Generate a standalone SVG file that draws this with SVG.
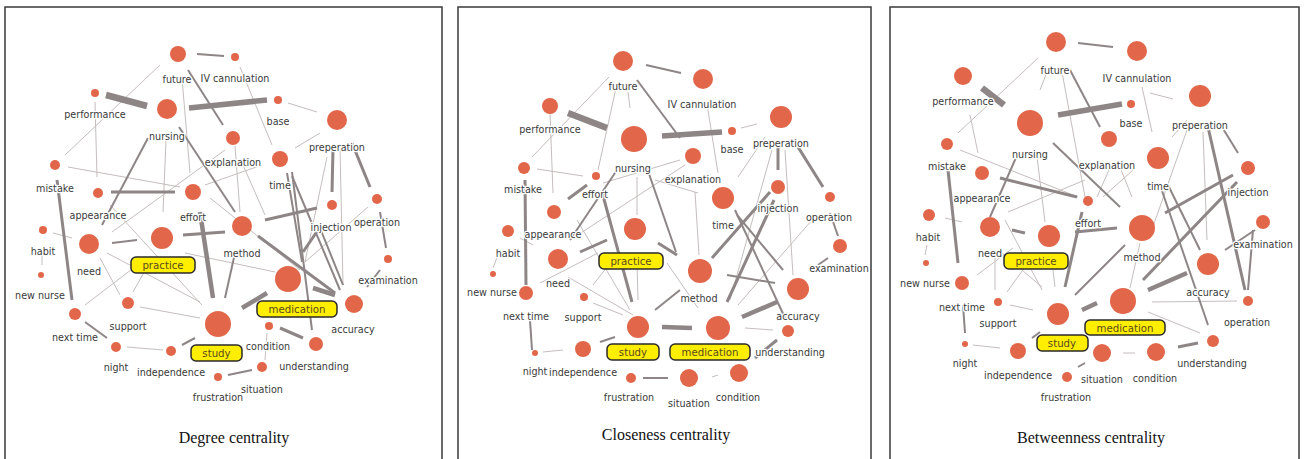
<svg xmlns="http://www.w3.org/2000/svg" width="1305" height="459" viewBox="0 0 1305 459">
<style>
.frame{fill:#fff;stroke:#3a3a3a;stroke-width:1.5}
.cap{font-family:"Liberation Serif",serif;font-size:16px;fill:#111;text-anchor:middle}
.n{fill:#e2674a}
.t{font-family:"DejaVu Sans",sans-serif;font-size:9.6px;fill:#3a3a3a;text-anchor:middle;paint-order:stroke;stroke:#fff;stroke-width:2.5;stroke-linejoin:round}
.b{fill:#ffee00;stroke:#2a2a2a;stroke-width:1.5}
.bt{font-family:"DejaVu Sans",sans-serif;font-size:10.2px;fill:#5a4a1e;text-anchor:middle}
line{stroke-linecap:butt}
.e1{stroke:#c6bdbd;stroke-width:1}
.e2{stroke:#8e8686;stroke-width:2}
.e3{stroke:#8e8686;stroke-width:3}
.e4{stroke:#8e8686;stroke-width:4.5}
.e5{stroke:#8e8686;stroke-width:5.5}
.e6{stroke:#8e8686;stroke-width:6.5}
</style>
<rect class="frame" x="5" y="7" width="437" height="470"/>
<rect class="frame" x="458" y="7" width="413" height="470"/>
<rect class="frame" x="890" y="7" width="409" height="470"/>

<!-- Panel 1 connectors -->
<g id="p1-edges">
<line class="e1" x1="182" y1="78" x2="190" y2="173"/>
<line class="e1" x1="160" y1="65" x2="65" y2="155"/>
<line class="e1" x1="166" y1="140" x2="163" y2="212"/>
<line class="e1" x1="95" y1="102" x2="97" y2="177"/>
<line class="e1" x1="68" y1="167" x2="180" y2="187"/>
<line class="e1" x1="112" y1="232" x2="225" y2="150"/>
<line class="e1" x1="205" y1="185" x2="262" y2="165"/>
<line class="e1" x1="240" y1="67" x2="272" y2="145"/>
<line class="e1" x1="288" y1="103" x2="317" y2="112"/>
<line class="e1" x1="295" y1="148" x2="320" y2="133"/>
<line class="e1" x1="235" y1="146" x2="240" y2="212"/>
<line class="e1" x1="243" y1="165" x2="265" y2="215"/>
<line class="e1" x1="340" y1="148" x2="343" y2="285"/>
<line class="e1" x1="327" y1="157" x2="305" y2="262"/>
<line class="e1" x1="368" y1="207" x2="305" y2="262"/>
<line class="e1" x1="267" y1="333" x2="265" y2="360"/>
<line class="e1" x1="185" y1="253" x2="275" y2="272"/>
<line class="e1" x1="53" y1="233" x2="72" y2="238"/>
<line class="e1" x1="42" y1="250" x2="42" y2="265"/>
<line class="e1" x1="100" y1="258" x2="120" y2="295"/>
<line class="e1" x1="107" y1="253" x2="200" y2="302"/>
<line class="e1" x1="85" y1="305" x2="140" y2="263"/>
<line class="e1" x1="133" y1="292" x2="147" y2="267"/>
<line class="e1" x1="140" y1="307" x2="200" y2="318"/>
<line class="e1" x1="110" y1="205" x2="202" y2="305"/>
<line class="e1" x1="127" y1="347" x2="163" y2="350"/>
<line class="e1" x1="210" y1="198" x2="300" y2="270"/>
<line class="e2" x1="197" y1="54" x2="224" y2="56"/>
<line class="e2" x1="188" y1="70" x2="223" y2="125"/>
<line class="e2" x1="179" y1="127" x2="235" y2="212"/>
<line class="e2" x1="148" y1="138" x2="102" y2="225"/>
<line class="e2" x1="287" y1="173" x2="302" y2="262"/>
<line class="e2" x1="292" y1="176" x2="340" y2="290"/>
<line class="e2" x1="380" y1="212" x2="386" y2="248"/>
<line class="e2" x1="380" y1="270" x2="367" y2="287"/>
<line class="e2" x1="228" y1="375" x2="252" y2="370"/>
<line class="e2" x1="292" y1="172" x2="312" y2="330"/>
<line class="e2" x1="320" y1="228" x2="343" y2="285"/>
<line class="e2" x1="235" y1="253" x2="225" y2="298"/>
<line class="e2" x1="112" y1="243" x2="137" y2="240"/>
<line class="e2" x1="85" y1="322" x2="107" y2="338"/>
<line class="e2" x1="182" y1="345" x2="195" y2="338"/>
<line class="e3" x1="57" y1="180" x2="72" y2="300"/>
<line class="e3" x1="111" y1="192" x2="175" y2="192"/>
<line class="e3" x1="333" y1="150" x2="332" y2="192"/>
<line class="e3" x1="352" y1="143" x2="370" y2="187"/>
<line class="e3" x1="265" y1="220" x2="317" y2="208"/>
<line class="e3" x1="258" y1="236" x2="335" y2="293"/>
<line class="e3" x1="280" y1="328" x2="303" y2="338"/>
<line class="e3" x1="303" y1="252" x2="318" y2="230"/>
<line class="e3" x1="183" y1="235" x2="225" y2="232"/>
<line class="e4" x1="313" y1="288" x2="335" y2="295"/>
<line class="e4" x1="242" y1="308" x2="267" y2="293"/>
<line class="e4" x1="200" y1="212" x2="213" y2="298"/>
<line class="e5" x1="189" y1="108" x2="267" y2="100"/>
<line class="e6" x1="106" y1="95" x2="147" y2="106"/>
</g>

<!-- Panel 1 nodes -->
<g id="p1-future"><circle class="n" cx="178" cy="54" r="8"/><text class="t" x="177" y="83">future</text></g>
<g id="p1-iv-cannulation"><circle class="n" cx="235" cy="57" r="4"/><text class="t" x="235" y="82">IV cannulation</text></g>
<g id="p1-performance"><circle class="n" cx="95" cy="93" r="4"/><text class="t" x="95" y="118">performance</text></g>
<g id="p1-nursing"><circle class="n" cx="167" cy="109" r="10"/><text class="t" x="167" y="140">nursing</text></g>
<g id="p1-base"><circle class="n" cx="278" cy="100" r="4"/><text class="t" x="278" y="125">base</text></g>
<g id="p1-preperation"><circle class="n" cx="337" cy="120" r="10"/><text class="t" x="337" y="151">preperation</text></g>
<g id="p1-explanation"><circle class="n" cx="233" cy="138" r="7"/><text class="t" x="233" y="166">explanation</text></g>
<g id="p1-time"><circle class="n" cx="280" cy="159" r="8"/><text class="t" x="280" y="189">time</text></g>
<g id="p1-mistake"><circle class="n" cx="55" cy="165" r="5"/><text class="t" x="55" y="192">mistake</text></g>
<g id="p1-appearance"><circle class="n" cx="98" cy="193" r="5"/><text class="t" x="98" y="219">appearance</text></g>
<g id="p1-effort"><circle class="n" cx="193" cy="192" r="8"/><text class="t" x="193" y="221">effort</text></g>
<g id="p1-injection"><circle class="n" cx="332" cy="205" r="5"/><text class="t" x="331" y="231">injection</text></g>
<g id="p1-operation"><circle class="n" cx="377" cy="199" r="5"/><text class="t" x="377" y="226">operation</text></g>
<g id="p1-method"><circle class="n" cx="242" cy="226" r="10"/><text class="t" x="242" y="257">method</text></g>
<g id="p1-habit"><circle class="n" cx="43" cy="230" r="4"/><text class="t" x="43" y="255">habit</text></g>
<g id="p1-need"><circle class="n" cx="89" cy="244" r="10"/><text class="t" x="89" y="275">need</text></g>
<g id="p1-practice"><circle class="n" cx="162" cy="238" r="11"/><rect class="b" x="131" y="257" width="64" height="16" rx="5"/><text class="bt" x="163" y="269">practice</text></g>
<g id="p1-new-nurse"><circle class="n" cx="41" cy="275" r="3"/><text class="t" x="40" y="299">new nurse</text></g>
<g id="p1-examination"><circle class="n" cx="388" cy="259" r="4"/><text class="t" x="388" y="284">examination</text></g>
<g id="p1-medication"><circle class="n" cx="288" cy="279" r="13"/><rect class="b" x="257" y="301" width="80" height="16" rx="5"/><text class="bt" x="297" y="313">medication</text></g>
<g id="p1-accuracy"><circle class="n" cx="354" cy="304" r="9"/><text class="t" x="353" y="333">accuracy</text></g>
<g id="p1-next-time"><circle class="n" cx="75" cy="314" r="6"/><text class="t" x="75" y="341">next time</text></g>
<g id="p1-support"><circle class="n" cx="128" cy="303" r="6"/><text class="t" x="128" y="330">support</text></g>
<g id="p1-study"><circle class="n" cx="218" cy="324" r="13"/><rect class="b" x="191" y="345" width="51" height="16" rx="5"/><text class="bt" x="216.5" y="357">study</text></g>
<g id="p1-condition"><circle class="n" cx="269" cy="326" r="4"/><text class="t" x="268" y="350">condition</text></g>
<g id="p1-understanding"><circle class="n" cx="316" cy="344" r="7"/><text class="t" x="314" y="370">understanding</text></g>
<g id="p1-night"><circle class="n" cx="116" cy="347" r="5"/><text class="t" x="116" y="371">night</text></g>
<g id="p1-independence"><circle class="n" cx="171" cy="351" r="5"/><text class="t" x="171" y="376">independence</text></g>
<g id="p1-situation"><circle class="n" cx="262" cy="367" r="5"/><text class="t" x="262" y="393">situation</text></g>
<g id="p1-frustration"><circle class="n" cx="218" cy="377" r="4"/><text class="t" x="218" y="401">frustration</text></g>
<text class="cap" x="234" y="443">Degree centrality</text>

<!-- Panel 2 connectors -->
<g id="p2-edges">
<line class="e1" x1="609" y1="77" x2="532" y2="157"/>
<line class="e1" x1="628" y1="92" x2="630" y2="108"/>
<line class="e1" x1="616" y1="88" x2="598" y2="170"/>
<line class="e1" x1="550" y1="113" x2="553" y2="193"/>
<line class="e1" x1="537" y1="169" x2="583" y2="176"/>
<line class="e1" x1="637" y1="177" x2="637" y2="215"/>
<line class="e1" x1="603" y1="183" x2="680" y2="160"/>
<line class="e1" x1="570" y1="240" x2="685" y2="165"/>
<line class="e1" x1="707" y1="104" x2="718" y2="173"/>
<line class="e1" x1="741" y1="128" x2="757" y2="124"/>
<line class="e1" x1="765" y1="137" x2="738" y2="177"/>
<line class="e1" x1="772" y1="150" x2="730" y2="300"/>
<line class="e1" x1="785" y1="150" x2="793" y2="275"/>
<line class="e1" x1="655" y1="180" x2="698" y2="193"/>
<line class="e1" x1="695" y1="192" x2="699" y2="255"/>
<line class="e1" x1="738" y1="305" x2="812" y2="220"/>
<line class="e1" x1="745" y1="328" x2="773" y2="330"/>
<line class="e1" x1="712" y1="377" x2="718" y2="375"/>
<line class="e1" x1="667" y1="263" x2="698" y2="308"/>
<line class="e1" x1="520" y1="238" x2="533" y2="245"/>
<line class="e1" x1="498" y1="255" x2="493" y2="268"/>
<line class="e1" x1="568" y1="277" x2="633" y2="315"/>
<line class="e1" x1="540" y1="283" x2="598" y2="253"/>
<line class="e1" x1="593" y1="285" x2="607" y2="267"/>
<line class="e1" x1="593" y1="303" x2="623" y2="315"/>
<line class="e1" x1="637" y1="263" x2="638" y2="300"/>
<line class="e1" x1="577" y1="220" x2="630" y2="310"/>
<line class="e1" x1="543" y1="352" x2="563" y2="350"/>
<line class="e2" x1="646" y1="65" x2="681" y2="73"/>
<line class="e2" x1="637" y1="80" x2="680" y2="138"/>
<line class="e2" x1="617" y1="170" x2="570" y2="240"/>
<line class="e2" x1="647" y1="168" x2="676" y2="252"/>
<line class="e2" x1="737" y1="215" x2="783" y2="270"/>
<line class="e2" x1="735" y1="210" x2="785" y2="318"/>
<line class="e2" x1="830" y1="213" x2="838" y2="236"/>
<line class="e2" x1="828" y1="258" x2="818" y2="265"/>
<line class="e2" x1="680" y1="290" x2="655" y2="310"/>
<line class="e2" x1="643" y1="378" x2="668" y2="378"/>
<line class="e2" x1="727" y1="275" x2="775" y2="283"/>
<line class="e2" x1="530" y1="320" x2="532" y2="350"/>
<line class="e2" x1="600" y1="342" x2="615" y2="337"/>
<line class="e3" x1="525" y1="180" x2="526" y2="285"/>
<line class="e3" x1="568" y1="199" x2="587" y2="185"/>
<line class="e3" x1="602" y1="192" x2="632" y2="302"/>
<line class="e3" x1="778" y1="148" x2="778" y2="170"/>
<line class="e3" x1="798" y1="147" x2="823" y2="187"/>
<line class="e3" x1="770" y1="192" x2="712" y2="258"/>
<line class="e3" x1="727" y1="302" x2="774" y2="200"/>
<line class="e3" x1="658" y1="243" x2="677" y2="255"/>
<line class="e3" x1="755" y1="358" x2="777" y2="340"/>
<line class="e3" x1="580" y1="252" x2="607" y2="240"/>
<line class="e4" x1="662" y1="327" x2="692" y2="328"/>
<line class="e4" x1="742" y1="317" x2="777" y2="302"/>
<line class="e5" x1="662" y1="136" x2="722" y2="132"/>
<line class="e6" x1="568" y1="113" x2="607" y2="128"/>
</g>

<!-- Panel 2 nodes -->
<g id="p2-future"><circle class="n" cx="623" cy="61" r="10"/><text class="t" x="623" y="90">future</text></g>
<g id="p2-iv-cannulation"><circle class="n" cx="703" cy="79" r="10"/><text class="t" x="702" y="108">IV cannulation</text></g>
<g id="p2-performance"><circle class="n" cx="550" cy="106" r="8"/><text class="t" x="550" y="133">performance</text></g>
<g id="p2-nursing"><circle class="n" cx="634" cy="139" r="13"/><text class="t" x="633" y="172">nursing</text></g>
<g id="p2-base"><circle class="n" cx="732" cy="131" r="4"/><text class="t" x="732" y="153">base</text></g>
<g id="p2-preperation"><circle class="n" cx="781" cy="117" r="11"/><text class="t" x="781" y="147">preperation</text></g>
<g id="p2-explanation"><circle class="n" cx="693" cy="156" r="8"/><text class="t" x="693" y="183">explanation</text></g>
<g id="p2-mistake"><circle class="n" cx="524" cy="168" r="6"/><text class="t" x="523" y="193">mistake</text></g>
<g id="p2-effort"><circle class="n" cx="596" cy="176" r="4"/><text class="t" x="595" y="198">effort</text></g>
<g id="p2-time"><circle class="n" cx="723" cy="198" r="11"/><text class="t" x="723" y="229">time</text></g>
<g id="p2-injection"><circle class="n" cx="778" cy="187" r="7"/><text class="t" x="778" y="212">injection</text></g>
<g id="p2-operation"><circle class="n" cx="830" cy="197" r="5"/><text class="t" x="829" y="221">operation</text></g>
<g id="p2-appearance"><circle class="n" cx="554" cy="212" r="7"/><text class="t" x="553" y="238">appearance</text></g>
<g id="p2-method"><circle class="n" cx="700" cy="271" r="12"/><text class="t" x="699" y="302">method</text></g>
<g id="p2-habit"><circle class="n" cx="508" cy="231" r="6"/><text class="t" x="508" y="257">habit</text></g>
<g id="p2-need"><circle class="n" cx="558" cy="259" r="10"/><text class="t" x="558" y="287">need</text></g>
<g id="p2-practice"><circle class="n" cx="635" cy="229" r="11"/><rect class="b" x="599" y="253" width="64" height="16" rx="5"/><text class="bt" x="631" y="265">practice</text></g>
<g id="p2-examination"><circle class="n" cx="840" cy="246" r="7"/><text class="t" x="839" y="272">examination</text></g>
<g id="p2-accuracy"><circle class="n" cx="798" cy="289" r="11"/><text class="t" x="798" y="320">accuracy</text></g>
<g id="p2-new-nurse"><circle class="n" cx="493" cy="274" r="3"/><text class="t" x="492" y="296">new nurse</text></g>
<g id="p2-next-time"><circle class="n" cx="526" cy="293" r="7"/><text class="t" x="526" y="320">next time</text></g>
<g id="p2-support"><circle class="n" cx="584" cy="297" r="4"/><text class="t" x="583" y="321">support</text></g>
<g id="p2-study"><circle class="n" cx="638" cy="327" r="11"/><rect class="b" x="607" y="344" width="52" height="16" rx="5"/><text class="bt" x="633" y="356">study</text></g>
<g id="p2-medication"><circle class="n" cx="718" cy="328" r="12"/><rect class="b" x="670" y="344" width="80" height="16" rx="5"/><text class="bt" x="710" y="356">medication</text></g>
<g id="p2-understanding"><circle class="n" cx="788" cy="331" r="6"/><text class="t" x="790" y="356">understanding</text></g>
<g id="p2-night"><circle class="n" cx="535" cy="353" r="3"/><text class="t" x="535" y="375">night</text></g>
<g id="p2-independence"><circle class="n" cx="583" cy="349" r="8"/><text class="t" x="583" y="376">independence</text></g>
<g id="p2-frustration"><circle class="n" cx="631" cy="378" r="5"/><text class="t" x="629" y="401">frustration</text></g>
<g id="p2-situation"><circle class="n" cx="689" cy="378" r="9"/><text class="t" x="689" y="407">situation</text></g>
<g id="p2-condition"><circle class="n" cx="739" cy="373" r="9"/><text class="t" x="738" y="401">condition</text></g>
<text class="cap" x="666" y="440">Closeness centrality</text>

<!-- Panel 3 connectors -->
<g id="p3-edges">
<line class="e1" x1="1038" y1="58" x2="958" y2="133"/>
<line class="e1" x1="1047" y1="72" x2="1040" y2="90"/>
<line class="e1" x1="1062" y1="72" x2="1085" y2="197"/>
<line class="e1" x1="970" y1="115" x2="978" y2="153"/>
<line class="e1" x1="960" y1="150" x2="1078" y2="197"/>
<line class="e1" x1="1037" y1="157" x2="1045" y2="222"/>
<line class="e1" x1="1008" y1="212" x2="1085" y2="180"/>
<line class="e1" x1="945" y1="218" x2="962" y2="222"/>
<line class="e1" x1="1150" y1="93" x2="1173" y2="99"/>
<line class="e1" x1="1142" y1="87" x2="1152" y2="132"/>
<line class="e1" x1="1187" y1="120" x2="1172" y2="137"/>
<line class="e1" x1="1187" y1="130" x2="1150" y2="235"/>
<line class="e1" x1="1203" y1="132" x2="1207" y2="240"/>
<line class="e1" x1="1112" y1="163" x2="1097" y2="197"/>
<line class="e1" x1="1120" y1="167" x2="1132" y2="197"/>
<line class="e1" x1="1133" y1="170" x2="1103" y2="197"/>
<line class="e1" x1="1140" y1="243" x2="1130" y2="288"/>
<line class="e1" x1="1152" y1="302" x2="1237" y2="301"/>
<line class="e1" x1="1148" y1="312" x2="1200" y2="333"/>
<line class="e1" x1="1123" y1="353" x2="1135" y2="353"/>
<line class="e1" x1="927" y1="245" x2="925" y2="255"/>
<line class="e1" x1="977" y1="275" x2="1013" y2="248"/>
<line class="e1" x1="995" y1="290" x2="995" y2="250"/>
<line class="e1" x1="1007" y1="292" x2="1025" y2="267"/>
<line class="e1" x1="1010" y1="305" x2="1033" y2="310"/>
<line class="e1" x1="1053" y1="270" x2="1055" y2="287"/>
<line class="e1" x1="1005" y1="220" x2="1042" y2="290"/>
<line class="e1" x1="1002" y1="253" x2="1042" y2="287"/>
<line class="e1" x1="973" y1="345" x2="1000" y2="348"/>
<line class="e2" x1="1078" y1="43" x2="1113" y2="47"/>
<line class="e2" x1="1070" y1="70" x2="1100" y2="127"/>
<line class="e2" x1="1018" y1="153" x2="990" y2="217"/>
<line class="e2" x1="1053" y1="143" x2="1120" y2="207"/>
<line class="e2" x1="1222" y1="127" x2="1238" y2="153"/>
<line class="e2" x1="1168" y1="185" x2="1200" y2="250"/>
<line class="e2" x1="1160" y1="185" x2="1208" y2="325"/>
<line class="e2" x1="1075" y1="295" x2="1125" y2="245"/>
<line class="e2" x1="1255" y1="230" x2="1225" y2="250"/>
<line class="e2" x1="1253" y1="230" x2="1248" y2="290"/>
<line class="e2" x1="963" y1="305" x2="965" y2="333"/>
<line class="e2" x1="1032" y1="338" x2="1040" y2="332"/>
<line class="e2" x1="1078" y1="367" x2="1085" y2="363"/>
<line class="e3" x1="1000" y1="178" x2="1077" y2="197"/>
<line class="e3" x1="948" y1="170" x2="958" y2="263"/>
<line class="e3" x1="1208" y1="127" x2="1245" y2="290"/>
<line class="e3" x1="1233" y1="175" x2="1165" y2="213"/>
<line class="e3" x1="1237" y1="182" x2="1143" y2="280"/>
<line class="e3" x1="1075" y1="232" x2="1117" y2="228"/>
<line class="e3" x1="1178" y1="347" x2="1198" y2="343"/>
<line class="e3" x1="1012" y1="230" x2="1025" y2="233"/>
<line class="e3" x1="1065" y1="287" x2="1082" y2="212"/>
<line class="e4" x1="1148" y1="290" x2="1187" y2="273"/>
<line class="e4" x1="1082" y1="310" x2="1097" y2="303"/>
<line class="e5" x1="1058" y1="115" x2="1122" y2="104"/>
<line class="e6" x1="982" y1="88" x2="1004" y2="105"/>
</g>

<!-- Panel 3 nodes -->
<g id="p3-future"><circle class="n" cx="1056" cy="42" r="10"/><text class="t" x="1055" y="74">future</text></g>
<g id="p3-iv-cannulation"><circle class="n" cx="1137" cy="51" r="10"/><text class="t" x="1137" y="82">IV cannulation</text></g>
<g id="p3-performance"><circle class="n" cx="963" cy="76" r="9"/><text class="t" x="963" y="105">performance</text></g>
<g id="p3-nursing"><circle class="n" cx="1030" cy="123" r="13"/><text class="t" x="1030" y="158">nursing</text></g>
<g id="p3-base"><circle class="n" cx="1131" cy="104" r="4"/><text class="t" x="1131" y="127">base</text></g>
<g id="p3-preperation"><circle class="n" cx="1200" cy="96" r="11"/><text class="t" x="1200" y="129">preperation</text></g>
<g id="p3-mistake"><circle class="n" cx="947" cy="144" r="6"/><text class="t" x="947" y="170">mistake</text></g>
<g id="p3-explanation"><circle class="n" cx="1109" cy="139" r="8"/><text class="t" x="1107" y="169">explanation</text></g>
<g id="p3-time"><circle class="n" cx="1158" cy="158" r="11"/><text class="t" x="1158" y="190">time</text></g>
<g id="p3-injection"><circle class="n" cx="1248" cy="168" r="7"/><text class="t" x="1248" y="196">injection</text></g>
<g id="p3-appearance"><circle class="n" cx="982" cy="173" r="7"/><text class="t" x="982" y="202">appearance</text></g>
<g id="p3-effort"><circle class="n" cx="1088" cy="201" r="5"/><text class="t" x="1088" y="227">effort</text></g>
<g id="p3-habit"><circle class="n" cx="929" cy="215" r="6"/><text class="t" x="928" y="241">habit</text></g>
<g id="p3-examination"><circle class="n" cx="1263" cy="222" r="7"/><text class="t" x="1263" y="248">examination</text></g>
<g id="p3-need"><circle class="n" cx="990" cy="227" r="10"/><text class="t" x="990" y="257">need</text></g>
<g id="p3-practice"><circle class="n" cx="1049" cy="236" r="11"/><rect class="b" x="1004" y="253" width="64" height="16" rx="5"/><text class="bt" x="1036" y="265">practice</text></g>
<g id="p3-method"><circle class="n" cx="1142" cy="228" r="13"/><text class="t" x="1142" y="261">method</text></g>
<g id="p3-new-nurse"><circle class="n" cx="926" cy="263" r="3"/><text class="t" x="925" y="287">new nurse</text></g>
<g id="p3-next-time"><circle class="n" cx="962" cy="283" r="7"/><text class="t" x="962" y="311">next time</text></g>
<g id="p3-accuracy"><circle class="n" cx="1208" cy="264" r="11"/><text class="t" x="1208" y="296">accuracy</text></g>
<g id="p3-support"><circle class="n" cx="998" cy="302" r="4"/><text class="t" x="998" y="327">support</text></g>
<g id="p3-operation"><circle class="n" cx="1248" cy="301" r="5"/><text class="t" x="1247" y="326">operation</text></g>
<g id="p3-medication"><circle class="n" cx="1123" cy="301" r="13"/><rect class="b" x="1085" y="320" width="80" height="15" rx="5"/><text class="bt" x="1125" y="331.5">medication</text></g>
<g id="p3-study"><circle class="n" cx="1058" cy="314" r="11"/><rect class="b" x="1037" y="335" width="51" height="16" rx="5"/><text class="bt" x="1062" y="347">study</text></g>
<g id="p3-night"><circle class="n" cx="965" cy="344" r="3"/><text class="t" x="965" y="367">night</text></g>
<g id="p3-independence"><circle class="n" cx="1018" cy="351" r="8"/><text class="t" x="1018" y="379">independence</text></g>
<g id="p3-frustration"><circle class="n" cx="1067" cy="377" r="5"/><text class="t" x="1066" y="401">frustration</text></g>
<g id="p3-situation"><circle class="n" cx="1102" cy="353" r="9"/><text class="t" x="1102" y="383">situation</text></g>
<g id="p3-condition"><circle class="n" cx="1156" cy="352" r="9"/><text class="t" x="1155" y="382">condition</text></g>
<g id="p3-understanding"><circle class="n" cx="1213" cy="341" r="6"/><text class="t" x="1212" y="367">understanding</text></g>
<text class="cap" x="1091" y="443">Betweenness centrality</text>
</svg>
